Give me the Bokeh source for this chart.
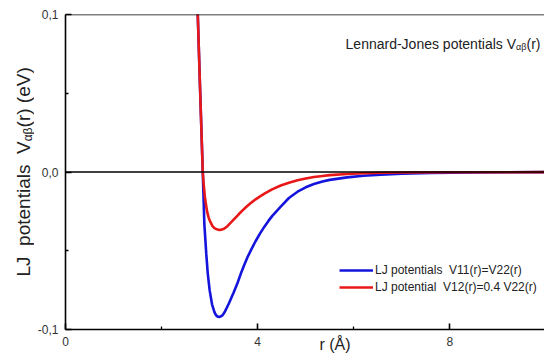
import math
from bokeh.plotting import figure
from bokeh.layouts import row
from bokeh.models import (ColumnDataSource, Label, Span, FixedTicker, LinearAxis,
                          CustomJSTickFormatter, Legend, LegendItem)
from bokeh.embed import file_html
from bokeh.resources import INLINE

# ---- data ----
r_v11 = [2.73, 2.753, 2.80, 2.857, 2.89, 2.93, 2.96, 3.00, 3.05, 3.10, 3.125, 3.15,
         3.175, 3.20, 3.225, 3.26, 3.29, 3.32, 3.40, 3.50, 3.58, 3.65, 3.72, 3.79,
         3.87, 3.95, 4.05, 4.14, 4.22, 4.30, 4.39, 4.48, 4.65, 4.83, 5.00, 5.17,
         5.35, 5.50, 5.86, 6.20, 6.56, 7.00, 7.60, 8.50, 10.0]
v_v11 = [0.122, 0.100, 0.054, 0.0, -0.033, -0.052, -0.064, -0.075, -0.084, -0.089,
         -0.0905, -0.0915, -0.0919, -0.0920, -0.0918, -0.0912, -0.0900, -0.0885,
         -0.0835, -0.0765, -0.0705, -0.0645, -0.0590, -0.0540, -0.0490, -0.0443,
         -0.0390, -0.0347, -0.0312, -0.0280, -0.0250, -0.0220, -0.0165, -0.0125,
         -0.0097, -0.0076, -0.0060, -0.0050, -0.0034, -0.0024, -0.0017, -0.0011,
         -0.0006, -0.0003, -0.0001]

r_v12 = [2.73, 2.753, 2.80, 2.857, 2.88, 2.90, 2.925, 2.95, 2.98, 3.02, 3.06, 3.10,
         3.15, 3.20, 3.25, 3.30, 3.37, 3.44, 3.52, 3.60, 3.68, 3.76, 3.85, 3.95,
         4.05, 4.15, 4.30, 4.48, 4.65, 4.83, 5.00, 5.17, 5.35, 5.50, 5.86, 6.20,
         6.60, 7.00, 8.00, 10.0]
v_v12 = [0.122, 0.100, 0.054, 0.0, -0.009, -0.0155, -0.021, -0.0255, -0.029, -0.032,
         -0.0343, -0.0356, -0.0364, -0.0368, -0.0366, -0.0360, -0.0344, -0.0322,
         -0.0296, -0.0270, -0.0245, -0.0222, -0.0198, -0.0175, -0.0155, -0.0136,
         -0.0110, -0.0086, -0.0068, -0.0053, -0.0041, -0.0032, -0.0025, -0.0020,
         -0.0013, -0.0008, -0.0005, -0.0003, -0.0002, -0.0001]

x_ticks = [0, 4, 8]
x_minor = [2, 6]
y_ticks = [-0.1, 0.0, 0.1]
y_minor = [-0.05, 0.05]

NB = "\u00a0"
label_v11 = "LJ potentials" + NB + " V11(r)=V22(r)"
label_v12 = "LJ potential" + NB + " V12(r)=0.4 V22(r)"
y_title_main = "LJ" + NB + " potentials" + NB + " V"
y_title_sub = "αβ"
y_title_tail = "(r) (eV)"
plot_title_main = "Lennard-Jones potentials V"
plot_title_sub = "αβ"
plot_title_tail = "(r)"
x_title = "r (Å)"
x_title_pos = 5.608

FONT = "Liberation Sans"
BLUE = "#1414dc"
RED = "#e81818"
TXT = "#222222"

LEFT_W = 34

p = figure(width=544 - LEFT_W, height=356, x_range=(0, 9.97), y_range=(-0.1, 0.1),
           output_backend="svg", toolbar_location=None,
           min_border_left=64 - LEFT_W, min_border_right=0, min_border_top=14,
           min_border_bottom=27)
p.xgrid.visible = False
p.ygrid.visible = False
p.outline_line_color = None
p.background_fill_color = "white"
p.border_fill_color = "white"

for ax in (p.xaxis[0], p.yaxis[0]):
    ax.axis_line_color = "black"
    ax.axis_line_width = 1.6
    ax.major_tick_line_color = "black"
    ax.major_tick_line_width = 1.6
    ax.minor_tick_line_color = "black"
    ax.minor_tick_line_width = 1.3
    ax.major_tick_in = 6
    ax.major_tick_out = 0
    ax.minor_tick_in = 3
    ax.minor_tick_out = 0
    ax.major_label_text_font = FONT
    ax.major_label_text_font_size = "12px"
    ax.major_label_text_color = "#333333"
    ax.major_label_standoff = 7

p.xaxis[0].ticker = FixedTicker(ticks=x_ticks, minor_ticks=x_minor)
p.yaxis[0].ticker = FixedTicker(ticks=y_ticks, minor_ticks=y_minor)
p.yaxis[0].formatter = CustomJSTickFormatter(
    code="return tick.toFixed(1).replace('.', ',');")

# x axis title drawn as the single label of a second, line-less bottom axis
xt = LinearAxis(ticker=FixedTicker(ticks=[x_title_pos], minor_ticks=[]),
                formatter=CustomJSTickFormatter(code="return %r;" % x_title),
                axis_line_color=None, major_tick_line_color=None,
                minor_tick_line_color=None, major_tick_in=0, major_tick_out=0,
                minor_tick_in=0, minor_tick_out=0,
                major_label_standoff=-13, major_label_text_font=FONT,
                major_label_text_font_size="16px", major_label_text_color=TXT)
p.add_layout(xt, "below")

p.add_layout(Span(location=0, dimension="width", line_color="black", line_width=1.5))
p.add_layout(Span(location=0.1, dimension="width", line_color="black", line_width=1.6))

src1 = ColumnDataSource(dict(r=r_v11, v=v_v11))
src2 = ColumnDataSource(dict(r=r_v12, v=v_v12))
rb = p.line("r", "v", source=src1, line_color=BLUE, line_width=2.6)
rr = p.line("r", "v", source=src2, line_color=RED, line_width=2.6)

legend = Legend(items=[LegendItem(label=label_v11, renderers=[rb]),
                       LegendItem(label=label_v12, renderers=[rr])],
                location=(274, 34), border_line_color=None,
                background_fill_alpha=0, padding=0, margin=0, spacing=1,
                glyph_width=34, glyph_height=16, label_height=16,
                label_standoff=2, label_text_font=FONT,
                label_text_font_size="12px", label_text_color=TXT)
p.add_layout(legend)

# title in the upper right
tfs = 14
p.add_layout(Label(x=475, y=286, x_units="screen", y_units="screen",
                   text=plot_title_tail,
                   text_font=FONT, text_font_size=f"{tfs}px", text_align="right",
                   text_baseline="alphabetic", text_color=TXT))
p.add_layout(Label(x=475 - 1.0 * tfs, y=283, x_units="screen", y_units="screen",
                   text=plot_title_sub,
                   text_font=FONT, text_font_size="9px", text_align="right",
                   text_baseline="alphabetic", text_color=TXT))
p.add_layout(Label(x=475 - 1.0 * tfs - 10.5, y=286, x_units="screen", y_units="screen",
                   text=plot_title_main,
                   text_font=FONT, text_font_size=f"{tfs}px", text_align="right",
                   text_baseline="alphabetic", text_color=TXT))

# ---- narrow strip on the left holding the rotated y axis title ----
q = figure(width=LEFT_W, height=356, x_range=(0, LEFT_W), y_range=(0, 356),
           output_backend="svg", toolbar_location=None, min_border=0,
           x_axis_location=None, y_axis_location=None)
q.outline_line_color = None
q.background_fill_color = "white"
q.border_fill_color = "white"
q.grid.visible = False

yfs = 19
y0 = 356 - 303
w_main = 7.115 * yfs
sub_fs = 12
w_sub = 1.16 * sub_fs
q.add_layout(Label(x=22.5, y=y0, x_units="screen", y_units="screen",
                   text=y_title_main, angle=math.pi / 2,
                   text_font=FONT, text_font_size=f"{yfs}px", text_align="left",
                   text_baseline="alphabetic", text_color=TXT))
q.add_layout(Label(x=27.5, y=y0 + w_main, x_units="screen", y_units="screen",
                   text=y_title_sub, angle=math.pi / 2,
                   text_font=FONT, text_font_size=f"{sub_fs}px", text_align="left",
                   text_baseline="alphabetic", text_color=TXT))
q.add_layout(Label(x=22.5, y=y0 + w_main + w_sub, x_units="screen", y_units="screen",
                   text=y_title_tail, angle=math.pi / 2,
                   text_font=FONT, text_font_size=f"{yfs}px", text_align="left",
                   text_baseline="alphabetic", text_color=TXT))

layout = row(q, p)
open("out.html", "w").write(file_html(layout, INLINE))
